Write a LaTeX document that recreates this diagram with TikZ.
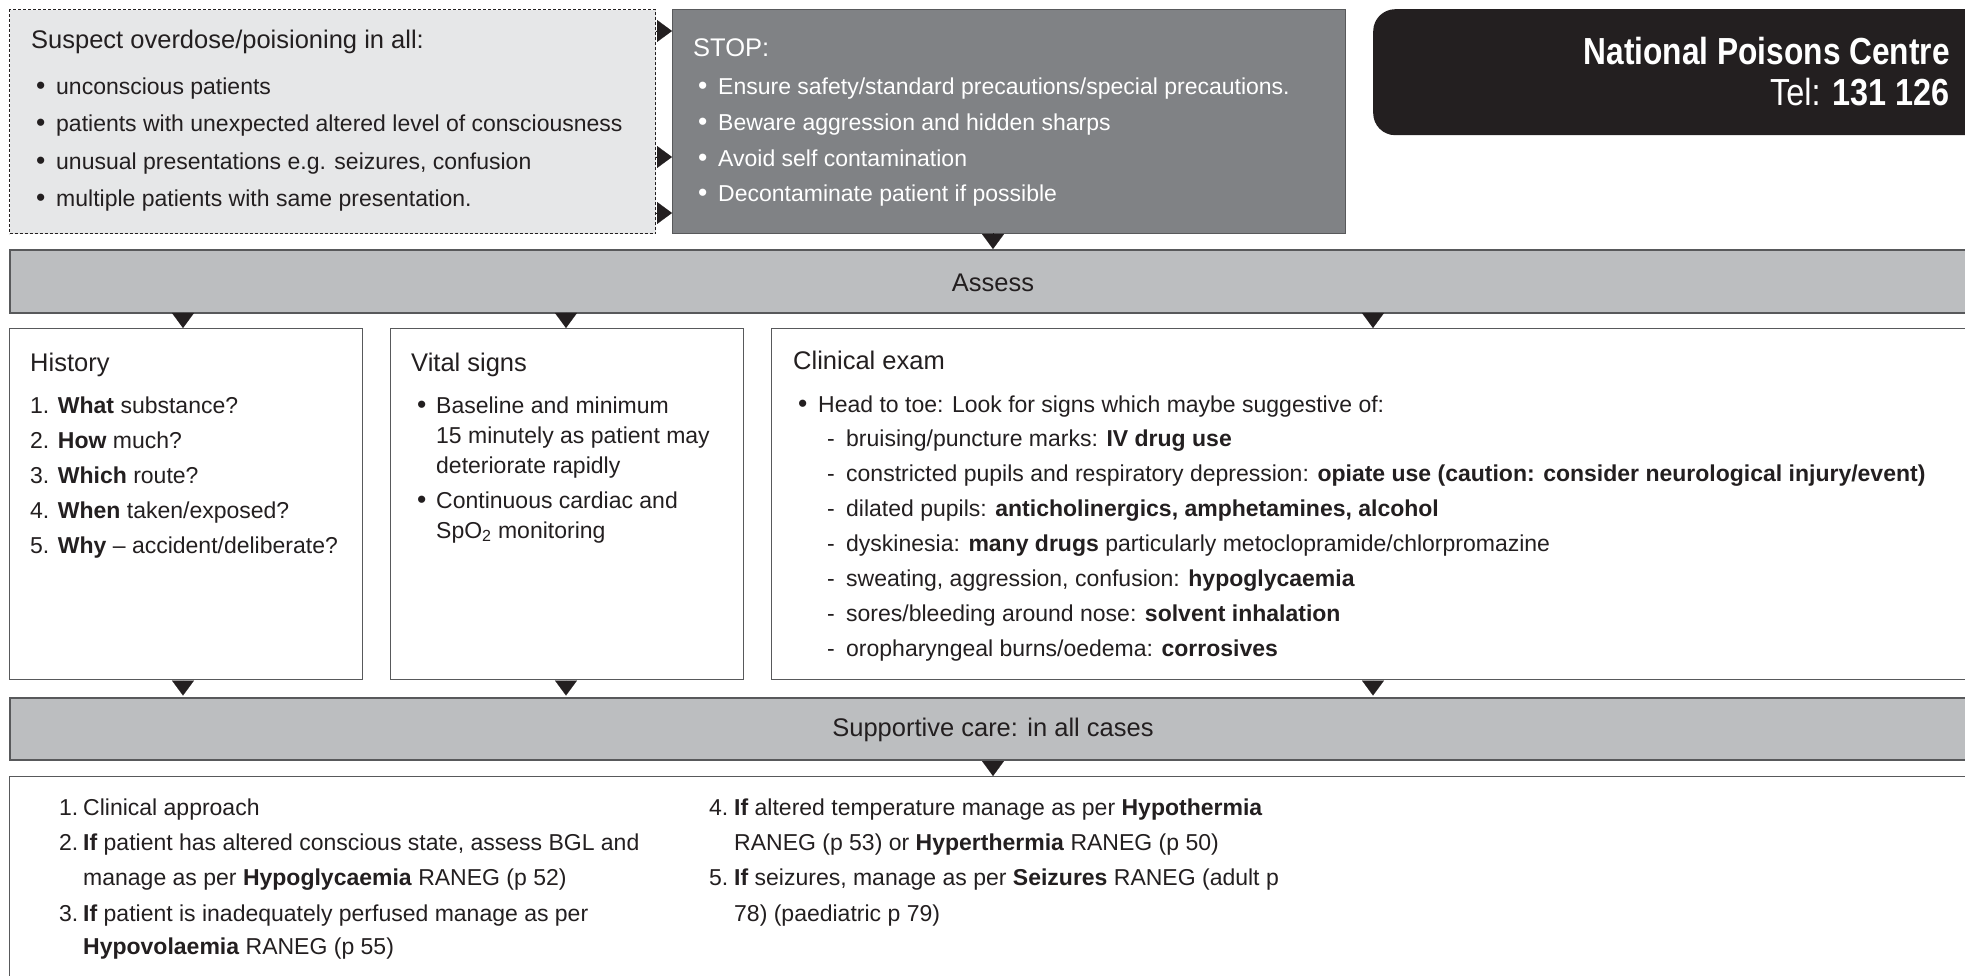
\documentclass[tikz,border=0pt]{standalone}
\usepackage{fontspec}
\usepackage{graphicx}
\setmainfont{Liberation Sans}
\usetikzlibrary{arrows.meta}
\definecolor{ink}{HTML}{231F20}
\definecolor{paleg}{HTML}{E6E7E8}
\definecolor{midg}{HTML}{808285}
\definecolor{barg}{HTML}{BCBEC0}
\definecolor{edge}{HTML}{58595B}
\newcommand{\blt}{\scalebox{1.15}{•}}
\begin{document}
\begin{tikzpicture}[x=1pt,y=-1pt,
  txt/.style={anchor=base west, inner sep=0pt, font=\fontsize{23}{28}\selectfont, text=ink},
  wtxt/.style={txt, text=white},
  head/.style={anchor=base west, inner sep=0pt, font=\fontsize{25.5}{30}\selectfont, text=ink},
  whead/.style={head, text=white},
  ctr/.style={anchor=center, inner sep=0pt, font=\fontsize{25.5}{30}\selectfont, text=ink},
  panel/.style={anchor=north west, inner sep=0pt, draw=edge, line width=1.2pt, fill=white},
  bar/.style={anchor=north west, inner sep=0pt, draw=edge, line width=1.6pt, fill=barg},
  flow/.style={draw=ink, line width=0.1pt, shorten <=0.8pt, -{Triangle[length=15pt,width=22pt]}, fill=ink},
  npc/.style={anchor=base east, inner sep=0pt, text=white, font=\fontsize{37.7}{40}\selectfont}
]
\path[use as bounding box] (0,0) rectangle (1965,976);
\clip (0,0) rectangle (1965,976);

% ---------- boxes ----------
\node[anchor=north west, inner sep=0pt, draw=ink, line width=1.2pt, dash pattern=on 3pt off 2pt,
      fill=paleg, minimum width=646pt, minimum height=224pt] (susp) at (9,9) {};
\node[anchor=north west, inner sep=0pt, draw=edge, line width=1.2pt, fill=midg,
      minimum width=673pt, minimum height=224pt] (stop) at (672,9) {};
\node[anchor=north west, inner sep=0pt, fill=ink, rounded corners=22pt,
      minimum width=640pt, minimum height=126pt] (npcbox) at (1373,9) {};
\node[bar, minimum width=2000pt, minimum height=63pt] (assess) at (9,249) {};
\node[panel, minimum width=353pt, minimum height=351pt] (hist) at (9,328) {};
\node[panel, minimum width=353pt, minimum height=351pt] (vital) at (390,328) {};
\node[panel, minimum width=1250pt, minimum height=351pt] (exam) at (771,328) {};
\node[bar, minimum width=2000pt, minimum height=62pt] (supp) at (9,697) {};
\node[panel, minimum width=2000pt, minimum height=300pt] (care) at (9,776) {};

% ---------- connectors ----------
\coordinate (s1) at (655,31);
\coordinate (s2) at (655,157);
\coordinate (s3) at (655,213);
\foreach \c in {s1,s2,s3} \draw[flow] (\c) -- (\c -| stop.west);
\draw[flow] (stop.south -| 993,0) -- (assess.north -| 993,0);
\foreach \t/\xx in {hist/183, vital/566, exam/1373} {
  \draw[flow] (assess.south -| \xx,0) -- (\t.north -| \xx,0);
  \draw[flow, shorten >=1.5pt] (\t.south -| \xx,0) -- (supp.north -| \xx,0);
}
\draw[flow] (supp.south -| 993,0) -- (care.north -| 993,0);

% ---------- suspect ----------
\node[head] (su0) at (31,49) {Suspect overdose/poisioning in all:};
\foreach \n/\yy/\s in {1/95/{unconscious patients},
                       2/132/{patients with unexpected altered level of consciousness},
                       3/170/{unusual presentations e.g. seizures, confusion},
                       4/207/{multiple patients with same presentation.}} {
  \node[txt] (sub\n) at (36,\yy) {\blt};
  \node[txt] (sut\n) at (56,\yy) {\s};
}

% ---------- stop ----------
\node[whead] (st0) at (693,57) {STOP:};
\foreach \n/\yy/\s in {1/95/{Ensure safety/standard precautions/special precautions.},
                       2/131/{Beware aggression and hidden sharps},
                       3/167/{Avoid self contamination},
                       4/202/{Decontaminate patient if possible}} {
  \node[wtxt] (stb\n) at (698,\yy) {\blt};
  \node[wtxt] (stt\n) at (718,\yy) {\s};
}

% ---------- poisons centre ----------
\node[npc] (npc1) at (1950,65) {\scalebox{0.84}[1]{\bfseries National Poisons Centre}};
\node[npc] (npc2) at (1950,106) {\scalebox{0.86}[1]{Tel: \textbf{131 126}}};

% ---------- bars ----------
\node[ctr] (assesst) at (993,283) {Assess};
\node[ctr] (suppt) at (993,730) {Supportive care: in all cases};

% ---------- history ----------
\node[head] (hi0) at (30,371) {History};
\node[txt] (hi1) at (30,413) {1. \textbf{What} substance?};
\node[txt] (hi2) at (30,448) {2. \textbf{How} much?};
\node[txt] (hi3) at (30,483) {3. \textbf{Which} route?};
\node[txt] (hi4) at (30,518) {4. \textbf{When} taken/exposed?};
\node[txt] (hi5) at (30,553) {5. \textbf{Why} – accident/deliberate?};

% ---------- vital signs ----------
\node[head] (vi0) at (411,371) {Vital signs};
\node[txt] (vib1) at (417,413) {\blt};
\node[txt] (vi1) at (436,413) {Baseline and minimum};
\node[txt] (vi2) at (436,443) {15 minutely as patient may};
\node[txt] (vi3) at (436,473) {deteriorate rapidly};
\node[txt] (vib2) at (417,508) {\blt};
\node[txt] (vi4) at (436,508) {Continuous cardiac and};
\node[txt] (vi5) at (436,538) {SpO\textsubscript{2} monitoring};

% ---------- clinical exam ----------
\node[head] (ex0) at (793,369) {Clinical exam};
\node[txt] (exb) at (798,412) {\blt};
\node[txt] (ex1) at (818,412) {Head to toe: Look for signs which maybe suggestive of:};
\foreach \n/\yy/\s in {1/446/{bruising/puncture marks: \textbf{IV drug use}},
  2/481/{constricted pupils and respiratory depression: \textbf{opiate use (caution: consider neurological injury/event)}},
  3/516/{dilated pupils: \textbf{anticholinergics, amphetamines, alcohol}},
  4/551/{dyskinesia: \textbf{many drugs} particularly metoclopramide/chlorpromazine},
  5/586/{sweating, aggression, confusion: \textbf{hypoglycaemia}},
  6/621/{sores/bleeding around nose: \textbf{solvent inhalation}},
  7/656/{oropharyngeal burns/oedema: \textbf{corrosives}}} {
  \node[txt] (exd\n) at (827,\yy) {-};
  \node[txt] (ext\n) at (846,\yy) {\s};
}

% ---------- supportive care ----------
\node[txt] (ca1) at (59,815) {1.};
\node[txt] (ca1t) at (83,815) {Clinical approach};
\node[txt] (ca2) at (59,850) {2.};
\node[txt] (ca2t) at (83,850) {\textbf{If} patient has altered conscious state, assess BGL and};
\node[txt] (ca2u) at (83,885) {manage as per \textbf{Hypoglycaemia} RANEG (p 52)};
\node[txt] (ca3) at (59,921) {3.};
\node[txt] (ca3t) at (83,921) {\textbf{If} patient is inadequately perfused manage as per};
\node[txt] (ca3u) at (83,954) {\textbf{Hypovolaemia} RANEG (p 55)};
\node[txt] (ca4) at (709,815) {4.};
\node[txt] (ca4t) at (734,815) {\textbf{If} altered temperature manage as per \textbf{Hypothermia}};
\node[txt] (ca4u) at (734,850) {RANEG (p 53) or \textbf{Hyperthermia} RANEG (p 50)};
\node[txt] (ca5) at (709,885) {5.};
\node[txt] (ca5t) at (734,885) {\textbf{If} seizures, manage as per \textbf{Seizures} RANEG (adult p};
\node[txt] (ca5u) at (734,921) {78) (paediatric p 79)};
\end{tikzpicture}
\end{document}
